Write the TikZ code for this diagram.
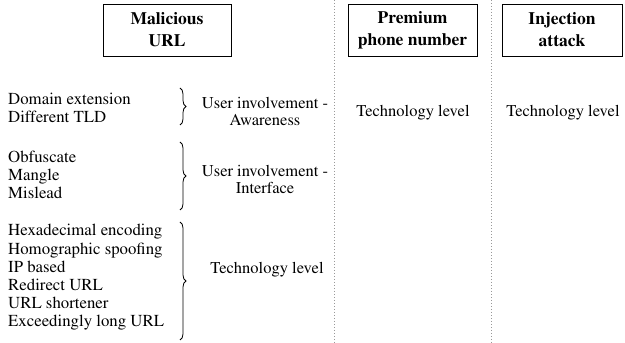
\documentclass[tikz,border=0pt]{standalone}
\usepackage[T1]{fontenc}
\usepackage{mathptmx}
\usetikzlibrary{decorations.pathreplacing}
\begin{document}
\begin{tikzpicture}[x=1pt,y=1pt,
  titlebox/.style={draw,line width=0.8pt,minimum height=52pt,inner sep=0pt,align=center,
    font=\fontsize{17.5}{22}\selectfont\bfseries},
  itemlist/.style={anchor=west,inner sep=0pt,align=left,font=\fontsize{16.8}{18.2}\selectfont},
  label/.style={inner sep=0pt,align=center,font=\fontsize{16.5}{17}\selectfont},
  sep/.style={gray!80,dotted,line width=1pt},
  bracket/.style={decorate,decoration={brace,amplitude=6pt},line width=0.8pt}]
\useasboundingbox (0,0) rectangle (625,343);
% separators
\coordinate (s1t) at (334,343); \coordinate (s1b) at (334,0);
\coordinate (s2t) at (491,343); \coordinate (s2b) at (491,0);
\draw[sep] (s1t) -- (s1b);
\draw[sep] (s2t) -- (s2b);
% title boxes
\node[titlebox,minimum width=128pt] (mal) at (167,313) {Malicious\\URL};
\node[titlebox,minimum width=129pt] (prem) at (412.5,313) {Premium\\phone number};
\node[titlebox,minimum width=120pt] (inj) at (562,313) {Injection\\attack};
% item groups
\node[itemlist] (g1) at (8,235.5) {Domain extension\\Different TLD};
\node[itemlist] (g2) at (8,168) {Obfuscate\\Mangle\\Mislead};
\node[itemlist] (g3) at (8,65.5) {Hexadecimal encoding\\Homographic spoofing\\IP based\\Redirect URL\\URL shortener\\Exceedingly long URL};
% braces
\coordinate (b1t) at (180,255); \coordinate (b1b) at (180,218);
\coordinate (b2t) at (180,201); \coordinate (b2b) at (180,133);
\coordinate (b3t) at (180,121); \coordinate (b3b) at (180,3);
\draw[bracket] (b1t) -- (b1b);
\draw[bracket] (b2t) -- (b2b);
\draw[bracket] (b3t) -- (b3b);
% labels
\node[label] (l1) at (265,232) {User involvement -\\Awareness};
\node[label] (l2) at (265,164) {User involvement -\\Interface};
\node[label] (l3) at (267,73) {Technology level};
\node[label] (l4) at (413,230) {Technology level};
\node[label] (l5) at (563,230) {Technology level};
\end{tikzpicture}
\end{document}
